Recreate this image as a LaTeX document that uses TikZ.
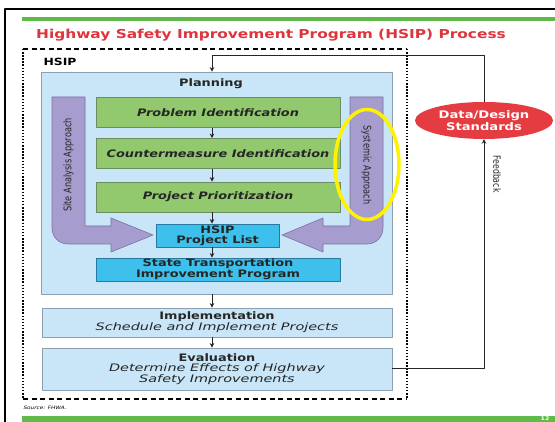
\documentclass[tikz,border=0pt]{standalone}
\usepackage{fontspec}
\setmainfont{DejaVu Sans}[FakeStretch=1.25]
\newfontfamily\narrowfont{DejaVu Sans}[FakeStretch=0.78]
\newfontfamily\widefont{DejaVu Sans}[FakeStretch=1.4]
\usetikzlibrary{shapes.geometric, arrows.meta}
\definecolor{barGreen}{RGB}{96,186,72}
\definecolor{titleRed}{RGB}{224,52,60}
\definecolor{dataRed}{RGB}{228,60,64}
\definecolor{planBlue}{RGB}{200,230,247}
\definecolor{planLine}{RGB}{140,160,176}
\definecolor{stepGreen}{RGB}{146,200,110}
\definecolor{stepLine}{RGB}{110,140,100}
\definecolor{listCyan}{RGB}{62,192,237}
\definecolor{listLine}{RGB}{40,120,160}
\definecolor{purp}{RGB}{167,156,206}
\definecolor{purpLine}{RGB}{122,112,162}
\newcommand\subline[1]{{\widefont\mdseries\itshape #1}}
\begin{document}
\begin{tikzpicture}[x=1pt, y=-1pt, line join=round, >={Stealth[length=4.5pt,width=4.5pt]},
  planbox/.style={draw=planLine, fill=planBlue, line width=0.8pt, inner sep=0pt, align=center, text=black!85, font=\fontsize{10.3}{9.6}\selectfont\bfseries},
  greenbox/.style={planbox, draw=stepLine, fill=stepGreen, minimum width=244pt, minimum height=30pt, font=\fontsize{10.3}{9.6}\selectfont\bfseries\itshape},
  listbox/.style={planbox, draw=listLine, fill=listCyan},
  arm/.style={draw=purpLine, fill=purp, line width=0.6pt},
  armtext/.style={text=black!85, font=\narrowfont\fontsize{10.5}{10}\selectfont},
  flow/.style={->, line width=1pt, draw=black!85}]
 \useasboundingbox (0,0) rectangle (555,422);
 \fill[white] (0,0) rectangle (555,422);
 % slide frame, bars and title
 \draw[line width=1.6pt] (5,422) -- (5,9) -- (555,9);
 \fill[barGreen] (22,17) rectangle (555,21);
 \fill[barGreen] (22,416.5) rectangle (555,422);
 \node[text=white, font=\fontsize{5}{5}\selectfont\bfseries] (page) at (545,418.5) {12};
 \node[text=titleRed, font=\fontsize{12.3}{12}\selectfont\bfseries] (title) at (271,35.5) {Highway Safety Improvement Program (HSIP) Process};
 \node[anchor=west, font=\fontsize{4.6}{5}\selectfont\itshape] (src) at (20,408) {Source: FHWA.};

 % HSIP frame
 \draw[line width=1.3pt, dash pattern=on 5pt off 3.5pt] (23,49) -- (407,49) (23,399) -- (407,399);
 \draw[line width=2pt, dash pattern=on 1.5pt off 1.6pt] (23,49) -- (23,399) (407,49) -- (407,399);
 \node[anchor=west, font=\fontsize{9.9}{10}\selectfont\bfseries] (hsip) at (40,62) {HSIP};

 % planning block
 \node[planbox, minimum width=351pt, minimum height=222pt] (planning) at (216.5,183) {};
 \node[font=\fontsize{10.3}{10}\selectfont\bfseries, text=black!85] (plantitle) at (211,84) {Planning};
 \draw[arm] (52,97) -- (85,97) -- (85,226) -- (111,226) -- (111,218) -- (153,235) -- (111,252) -- (111,244) -- (68,244) .. controls (59,244) and (52,237) .. (52,228) -- cycle;
 \draw[arm] (383,97) -- (350,97) -- (350,226) -- (323,226) -- (323,218) -- (282,235) -- (323,252) -- (323,244) -- (367,244) .. controls (376,244) and (383,237) .. (383,228) -- cycle;
 \node[armtext, rotate=90] (site) at (68.5,165) {Site Analysis Approach};
 \node[armtext, rotate=-90] (sys) at (366.5,165) {Systemic Approach};
 \node[greenbox] (prob) at (218,112.5) {Problem Identification};
 \node[greenbox] (cm) at (218,153.5) {Countermeasure Identification};
 \node[greenbox] (prio) at (218,197) {Project Prioritization};
 \node[listbox, minimum width=123pt, minimum height=23pt] (list) at (217.5,235.5) {HSIP\\Project List};
 \node[listbox, minimum width=244pt, minimum height=23pt] (stip) at (218,269.5) {State Transportation\\Improvement Program};

 % implementation and evaluation
 \node[planbox, minimum width=350pt, minimum height=29pt] (impl) at (217,322.5) {Implementation\\\subline{Schedule and Implement Projects}};
 \node[planbox, minimum width=350pt, minimum height=42pt] (eval) at (217,369) {Evaluation\\\subline{Determine Effects of Highway}\\\subline{Safety Improvements}};

 % flow down the column
 \coordinate (col) at (212,56);
 \draw[flow] (col) -- (planning.north -| col);
 \draw[flow] (prob.south -| col) -- (cm.north -| col);
 \draw[flow] (cm.south -| col) -- (prio.north -| col);
 \draw[flow] (prio.south -| col) -- (list.north -| col);
 \draw[flow] (list.south -| col) -- (stip.north -| col);
 \draw[flow] (planning.south -| col) -- (impl.north -| col);
 \draw[flow] (impl.south -| col) -- (eval.north -| col);

 % feedback loop
 \node[ellipse, fill=dataRed, minimum width=138pt, minimum height=37pt, inner sep=0pt, align=center, text=white, font=\fontsize{10.5}{9.2}\selectfont\bfseries] (data) at (484,120.5) {Data/Design\\Standards};
 \draw[flow] (eval.east) -| (data.south);
 \draw[line width=1pt, draw=black!85] (data.north) |- (col);
 \node[armtext, font=\narrowfont\fontsize{10}{10}\selectfont, rotate=-90] (fb) at (497,174) {Feedback};

 \node[draw=yellow, line width=3.5pt, ellipse, minimum width=64pt, minimum height=110pt] (ring) at (367,164.5) {};
\end{tikzpicture}
\end{document}
